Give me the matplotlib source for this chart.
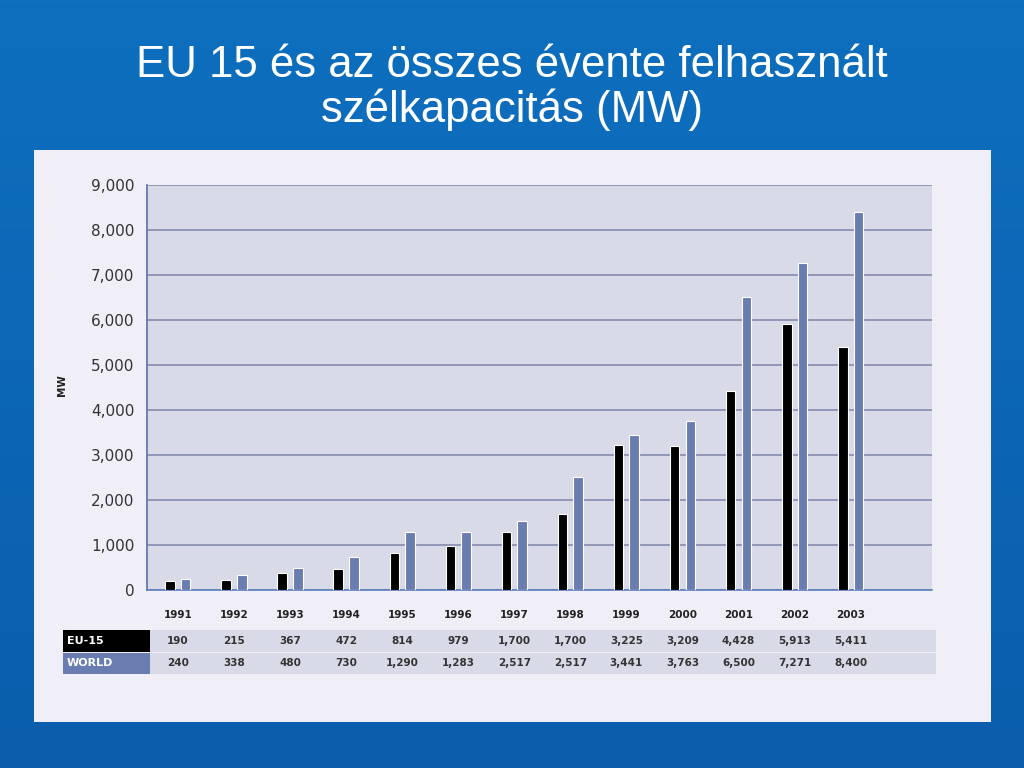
import numpy as np
import matplotlib
matplotlib.use('Agg')
import matplotlib.pyplot as plt
from matplotlib.patches import Rectangle
from matplotlib.transforms import blended_transform_factory

# Data
years = ['1991', '1992', '1993', '1994', '1995', '1996', '1997',
         '1998', '1999', '2000', '2001', '2002', '2003']
eu15 = [190, 215, 367, 472, 814, 979, 1290, 1700, 3225, 3209, 4428, 5913, 5411]
world = [240, 338, 480, 730, 1290, 1283, 1530, 2517, 3441, 3763, 6500, 7271, 8400]
# table rows as printed under the chart
eu15_table = ['190', '215', '367', '472', '814', '979', '1,700', '1,700',
              '3,225', '3,209', '4,428', '5,913', '5,411']
world_table = ['240', '338', '480', '730', '1,290', '1,283', '2,517', '2,517',
               '3,441', '3,763', '6,500', '7,271', '8,400']
yticks = [0, 1000, 2000, 3000, 4000, 5000, 6000, 7000, 8000, 9000]

title = 'EU 15 és az összes évente felhasznált\nszélkapacitás (MW)'

EU_COLOR = '#000000'
WORLD_COLOR = '#6a7db0'
PANEL = '#f0eff8'
PLOT_BG = '#d9dae8'
GRID = '#8c91b4'

W, H = 1024, 768
fig = plt.figure(figsize=(W / 100, H / 100), dpi=100)

# blue slide background
bg = fig.add_axes([0, 0, 1, 1])
grad = np.linspace(0, 1, 256).reshape(-1, 1)
cmap = matplotlib.colors.LinearSegmentedColormap.from_list('bg', ['#0e6fbf', '#0a5eac'])
bg.imshow(grad, aspect='auto', cmap=cmap, extent=[0, 1, 0, 1])
bg.set_xlim(0, 1)
bg.set_ylim(0, 1)
bg.axis('off')

fig.text(0.5, 1 - 88 / H, title, ha='center', va='center', color='white',
         fontsize=31.5, family='Liberation Sans', linespacing=1.05)

# light chart panel
fig.patches.append(Rectangle((34 / W, 1 - 722 / H), (991 - 34) / W, (722 - 150) / H,
                             transform=fig.transFigure, facecolor=PANEL,
                             edgecolor='none', zorder=1))

ax = fig.add_axes([147 / W, 1 - 590 / H, (932 - 147) / W, (590 - 185) / H])
ax.set_zorder(3)
ax.set_facecolor(PLOT_BG)
x = np.arange(len(years))
bw = 0.17
off = 0.14
ax.bar(x - off, eu15, bw, color=EU_COLOR, edgecolor='white', linewidth=0.8, zorder=3)
ax.bar(x + off, world, bw, color=WORLD_COLOR, edgecolor='white', linewidth=0.8, zorder=3)

ax.set_xlim(-0.55, 13.45)
ax.set_ylim(0, 9000)
ax.set_yticks(yticks)
ax.set_yticklabels([f'{v:,}' for v in yticks], fontsize=11, color='#333333')
ax.set_xticks([])
ax.yaxis.grid(True, color=GRID, linewidth=1.3, zorder=1)
ax.set_axisbelow(True)
for s in ['top', 'right']:
    ax.spines[s].set_visible(False)
ax.spines['left'].set_color('#5a6fb0')
ax.spines['bottom'].set_color('#5a7fc0')
ax.spines['left'].set_linewidth(1.2)
ax.spines['bottom'].set_linewidth(1.2)
ax.tick_params(axis='y', length=0, pad=9)

fig.text(62 / W, 1 - 385 / H, 'MW', rotation=90, ha='center', va='center',
         fontsize=7.5, fontweight='bold', color='#222222')

# table under the chart
tr = blended_transform_factory(ax.transData, fig.transFigure)
for i, yr in enumerate(years):
    fig.text(x[i], 1 - 615 / H, yr, transform=tr, ha='center', va='center',
             fontsize=7.5, fontweight='bold', color='#222222')

rows = [('EU-15', eu15_table, EU_COLOR, 630, 652),
        ('WORLD', world_table, WORLD_COLOR, 653, 674)]
for name, vals, col, y0, y1 in rows:
    fig.patches.append(Rectangle((150 / W, 1 - y1 / H), (936 - 150) / W, (y1 - y0) / H,
                                 transform=fig.transFigure, facecolor=PLOT_BG,
                                 edgecolor='none', zorder=1))
    fig.patches.append(Rectangle((63 / W, 1 - y1 / H), (150 - 63) / W, (y1 - y0) / H,
                                 transform=fig.transFigure, facecolor=col,
                                 edgecolor='none', zorder=1))
    ym = 1 - (y0 + y1) / 2 / H
    fig.text(67 / W, ym, name, ha='left', va='center', fontsize=8,
             fontweight='bold', color='white')
    for i, v in enumerate(vals):
        fig.text(x[i], ym, v, transform=tr, ha='center', va='center',
                 fontsize=7.5, fontweight='bold', color='#333333')

fig.savefig('out.png', dpi=100)
